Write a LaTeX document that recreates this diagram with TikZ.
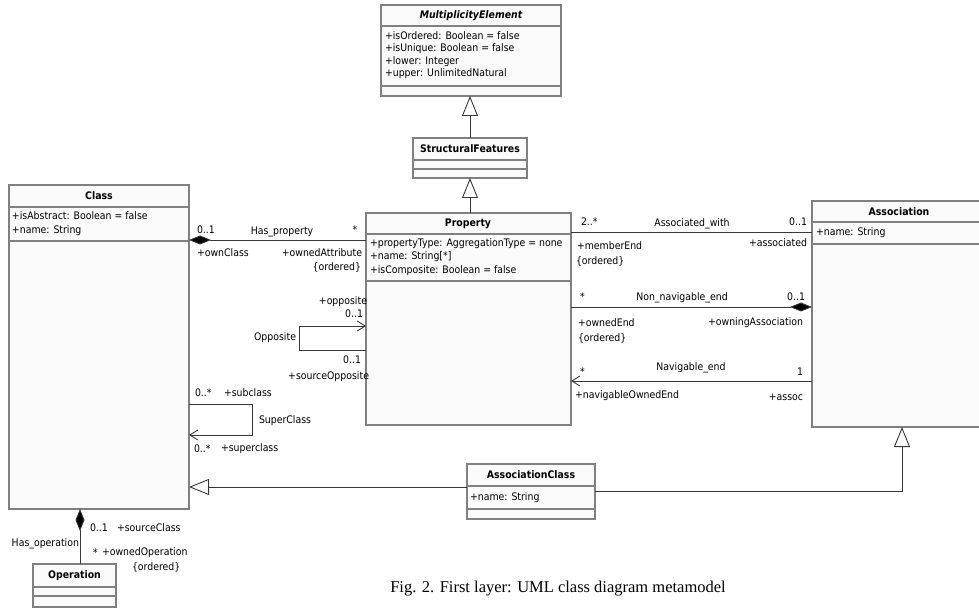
\documentclass[tikz,border=0pt]{standalone}
\usepackage{fontspec}
\usetikzlibrary{arrows.meta}
\newfontfamily\umlfont[FakeStretch=0.9]{DejaVu Sans}
\newfontfamily\capfont{Liberation Serif}
\definecolor{boxedge}{RGB}{128,128,128}
\definecolor{boxfill}{RGB}{250,250,250}
\definecolor{wirecol}{RGB}{55,55,55}
\tikzset{
  umlbox/.style={rectangle, draw=boxedge, fill=boxfill, line width=1.3pt,
    inner sep=0pt, outer sep=0pt, anchor=north west},
  compart/.style={draw=boxedge, line width=1.2pt},
  txt/.style={font=\umlfont\fontsize{10.4}{12}\selectfont, inner sep=0pt, outer sep=0pt},
  ttl/.style={font=\umlfont\bfseries\fontsize{10.4}{12}\selectfont, inner sep=0pt, outer sep=0pt},
  ttlit/.style={font=\umlfont\bfseries\itshape\fontsize{10.4}{12}\selectfont, inner sep=0pt, outer sep=0pt},
  wire/.style={draw=wirecol, line width=0.9pt},
  composite/.style={{Diamond[length=22pt,width=9pt,fill=black]}-},
  navigable/.style={-{Straight Barb[length=8pt,width=10pt]}},
  inherits/.style={-{Triangle[length=20pt,width=16pt,fill=white]}},
}
\begin{document}
\begin{tikzpicture}[x=1pt,y=-1pt]
\useasboundingbox (0,0) rectangle (979,609);
\clip (0,0) rectangle (979,609);

% ---------- classes ----------
\node[umlbox, minimum width=180, minimum height=91] (me) at (381,5) {};
\draw[compart] (me.west |- 0,26) -- (me.east |- 0,26);
\draw[compart] (me.west |- 0,86) -- (me.east |- 0,86);
\node[ttlit] (meT) at (471,16) {MultiplicityElement};
\node[txt, anchor=west] (meA1) at (385,36) {+isOrdered: Boolean = false};
\node[txt, anchor=west] (meA2) at (385,49) {+isUnique: Boolean = false};
\node[txt, anchor=west] (meA3) at (385,62) {+lower: Integer};
\node[txt, anchor=west] (meA4) at (385,74) {+upper: UnlimitedNatural};

\node[umlbox, minimum width=114, minimum height=40] (sf) at (413,138) {};
\draw[compart] (sf.west |- 0,160) -- (sf.east |- 0,160);
\draw[compart] (sf.west |- 0,169) -- (sf.east |- 0,169);
\node[ttl] (sfT) at (470,149) {StructuralFeatures};

\node[umlbox, minimum width=205, minimum height=212] (prop) at (366,213) {};
\draw[compart] (prop.west |- 0,234) -- (prop.east |- 0,234);
\draw[compart] (prop.west |- 0,281) -- (prop.east |- 0,281);
\node[ttl] (propT) at (468,224) {Property};
\node[txt, anchor=west] (propA1) at (370,244) {+propertyType: AggregationType = none};
\node[txt, anchor=west] (propA2) at (370,257) {+name: String[*]};
\node[txt, anchor=west] (propA3) at (370,271) {+isComposite: Boolean = false};

\node[umlbox, minimum width=180, minimum height=324] (cls) at (9,185) {};
\draw[compart] (cls.west |- 0,207) -- (cls.east |- 0,207);
\draw[compart] (cls.west |- 0,241) -- (cls.east |- 0,241);
\node[ttl] (clsT) at (99,196) {Class};
\node[txt, anchor=west] (clsA1) at (12,216) {+isAbstract: Boolean = false};
\node[txt, anchor=west] (clsA2) at (12,231) {+name: String};

\node[umlbox, minimum width=175, minimum height=226] (asc) at (812,201) {};
\draw[compart] (asc.west |- 0,222) -- (asc.east |- 0,222);
\draw[compart] (asc.west |- 0,244) -- (asc.east |- 0,244);
\node[ttl] (ascT) at (899,212) {Association};
\node[txt, anchor=west] (ascA1) at (816,233) {+name: String};

\node[umlbox, minimum width=128, minimum height=55] (ac) at (467,464) {};
\draw[compart] (ac.west |- 0,486) -- (ac.east |- 0,486);
\draw[compart] (ac.west |- 0,509) -- (ac.east |- 0,509);
\node[ttl] (acT) at (531,475) {AssociationClass};
\node[txt, anchor=west] (acA1) at (470,498) {+name: String};

\node[umlbox, minimum width=83, minimum height=43] (op) at (33,564) {};
\draw[compart] (op.west |- 0,587) -- (op.east |- 0,587);
\draw[compart] (op.west |- 0,596) -- (op.east |- 0,596);
\node[ttl] (opT) at (74.5,576) {Operation};

% ---------- generalisations ----------
\draw[wire, inherits] (sf.north -| 470,0) -- (me.south -| 470,0);
\draw[wire, inherits] (prop.north -| 470,0) -- (sf.south -| 470,0);
\draw[wire, inherits] (ac.west |- 0,487) -- (cls.east |- 0,487);
\draw[wire, inherits] (ac.east |- 0,491) -| (asc.south -| 902,0);

% ---------- Has_property ----------
\draw[wire, composite] (cls.east |- 0,240) -- (prop.west |- 0,240);
\node[txt, anchor=west] (hp1) at (197,230) {0..1};
\node[txt] (hp2) at (282,232) {Has\_property};
\node[txt] (hp3) at (355,230) {*};
\node[txt, anchor=west] (hp4) at (197,253) {+ownClass};
\node[txt, anchor=east] (hp5) at (362,253) {+ownedAttribute};
\node[txt, anchor=east] (hp6) at (361,267) {\{ordered\}};

% ---------- Opposite ----------
\draw[wire, navigable] (prop.west |- 0,350) -- (299,350) -- (299,326) -- (prop.west |- 0,326);
\node[txt, anchor=east] (op1) at (367,302) {+opposite};
\node[txt, anchor=east] (op2) at (363,314) {0..1};
\node[txt, anchor=east] (op3) at (296,338) {Opposite};
\node[txt, anchor=east] (op4) at (361,360) {0..1};
\node[txt, anchor=east] (op5) at (369,377) {+sourceOpposite};

% ---------- SuperClass ----------
\draw[wire, navigable] (cls.east |- 0,404) -- (252,404) -- (252,435) -- (cls.east |- 0,435);
\node[txt, anchor=west] (sc1) at (195,393) {0..*};
\node[txt, anchor=west] (sc2) at (224,393) {+subclass};
\node[txt, anchor=west] (sc3) at (259,421) {SuperClass};
\node[txt, anchor=west] (sc4) at (194,449) {0..*};
\node[txt, anchor=west] (sc5) at (221,449) {+superclass};

% ---------- Associated_with ----------
\draw[wire] (prop.east |- 0,232) -- (asc.west |- 0,232);
\node[txt, anchor=west] (aw1) at (581,222) {2..*};
\node[txt] (aw2) at (692,224) {Associated\_with};
\node[txt, anchor=east] (aw3) at (807,222) {0..1};
\node[txt, anchor=west] (aw4) at (577,246) {+memberEnd};
\node[txt, anchor=west] (aw5) at (576,261) {\{ordered\}};
\node[txt, anchor=east] (aw6) at (807,243) {+associated};

% ---------- Non_navigable_end ----------
\draw[wire, composite] (asc.west |- 0,307) -- (prop.east |- 0,307);
\node[txt, anchor=west] (nn1) at (580,297) {*};
\node[txt] (nn2) at (682,298) {Non\_navigable\_end};
\node[txt, anchor=east] (nn3) at (805,297) {0..1};
\node[txt, anchor=west] (nn4) at (578,323) {+ownedEnd};
\node[txt, anchor=west] (nn5) at (578,338) {\{ordered\}};
\node[txt, anchor=east] (nn6) at (803,323) {+owningAssociation};

% ---------- Navigable_end ----------
\draw[wire, navigable] (asc.west |- 0,381) -- (prop.east |- 0,381);
\node[txt, anchor=west] (ne1) at (580,372) {*};
\node[txt] (ne2) at (691,368) {Navigable\_end};
\node[txt, anchor=east] (ne3) at (803,372) {1};
\node[txt, anchor=west] (ne4) at (575,396) {+navigableOwnedEnd};
\node[txt, anchor=east] (ne5) at (803,397) {+assoc};

% ---------- Has_operation ----------
\draw[wire, composite] (cls.south -| 80,0) -- (op.north -| 80,0);
\node[txt, anchor=west] (ho1) at (90,528) {0..1};
\node[txt, anchor=west] (ho2) at (117,528) {+sourceClass};
\node[txt, anchor=east] (ho3) at (79,544) {Has\_operation};
\node[txt, anchor=west] (ho4) at (93,553) {*};
\node[txt, anchor=west] (ho5) at (102,553) {+ownedOperation};
\node[txt, anchor=west] (ho6) at (132,567) {\{ordered\}};

% ---------- caption ----------
\node[font=\capfont\fontsize{16.5}{19}\selectfont, inner sep=0pt] (cap) at (558,589)
  {Fig. 2. First layer: UML class diagram metamodel};
\end{tikzpicture}
\end{document}
